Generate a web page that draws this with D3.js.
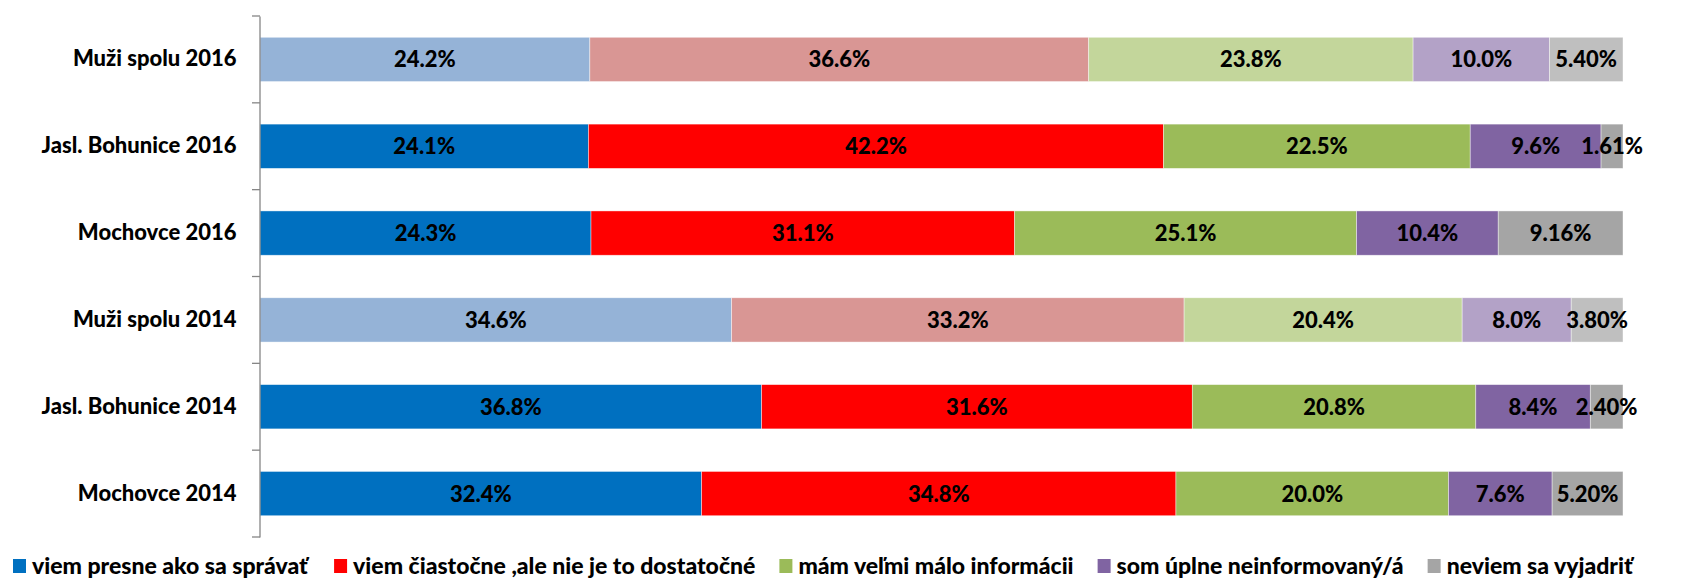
<!DOCTYPE html>
<html>
<head>
<meta charset="utf-8">
<script src="https://cdn.jsdelivr.net/npm/d3@7"></script>
<style>
  body { margin: 0; background: #fff; }
  svg text { font-family: Lato, "Open Sans", sans-serif; font-weight: 900; fill: #000; }
</style>
</head>
<body>
<div id="chart"></div>
<script>
// categories, top to bottom
var categories = [
  "Muži spolu 2016", "Jasl. Bohunice 2016", "Mochovce 2016",
  "Muži spolu 2014", "Jasl. Bohunice 2014", "Mochovce 2014"
];
// answer series (legend)
var seriesNames = [
  "viem presne ako sa správať",
  "viem čiastočne ,ale nie je to dostatočné",
  "mám veľmi málo informácii",
  "som úplne neinformovaný/á",
  "neviem sa vyjadriť"
];
// values per series, in category order (percent)
var presne     = [24.2, 24.1, 24.3, 34.6, 36.8, 32.4];
var ciastocne  = [36.6, 42.2, 31.1, 33.2, 31.6, 34.8];
var malo       = [23.8, 22.5, 25.1, 20.4, 20.8, 20.0];
var neinform   = [10.0, 9.6, 10.4, 8.0, 8.4, 7.6];
var nevyjadrit = [5.40, 1.61, 9.16, 3.80, 2.40, 5.20];
var labelDecimals = [1, 1, 1, 1, 2];

var seriesValues = [presne, ciastocne, malo, neinform, nevyjadrit];

// colours: full for the plants, pale for "Muži spolu"
var colors     = ["#0070C0", "#FF0000", "#9BBB59", "#8064A2", "#A5A5A5"];
var paleColors = ["#95B3D7", "#D99694", "#C3D69B", "#B3A2C7", "#BFBFBF"];

var width = 1681, height = 581;
var margin = { top: 16, right: 58, bottom: 44, left: 260 };

var svg = d3.select("#chart").append("svg")
  .attr("width", width)
  .attr("height", height);

// build table for d3.stack
var keys = seriesNames;
var table = categories.map(function (c, i) {
  var row = { cat: c };
  keys.forEach(function (k, j) { row[k] = seriesValues[j][i]; });
  return row;
});

var stacked = d3.stack().keys(keys).offset(d3.stackOffsetExpand)(table);

var x = d3.scaleLinear().domain([0, 1]).range([margin.left, width - margin.right]);
var y = d3.scaleBand().domain(categories)
  .range([margin.top, height - margin.bottom])
  .paddingInner(0.49).paddingOuter(0.245);

function isPale(cat) { return cat.indexOf("Muži") === 0; }

var layers = svg.append("g").selectAll("g")
  .data(stacked)
  .enter().append("g");

layers.selectAll("rect")
  .data(function (d) { return d.map(function (p) { return { p: p, s: d.index }; }); })
  .enter().append("rect")
  .attr("x", function (d) { return x(d.p[0]); })
  .attr("y", function (d) { return y(d.p.data.cat); })
  .attr("width", function (d) { return x(d.p[1]) - x(d.p[0]); })
  .attr("height", y.bandwidth())
  .attr("fill", function (d) { return isPale(d.p.data.cat) ? paleColors[d.s] : colors[d.s]; })
  .attr("stroke", "#ffffff")
  .attr("stroke-opacity", 0.6)
  .attr("stroke-width", 0.7);

// data labels
layers.selectAll("text")
  .data(function (d) { return d.map(function (p, i) { return { p: p, s: d.index, v: seriesValues[d.index][i] }; }); })
  .enter().append("text")
  .attr("x", function (d) { return (x(d.p[0]) + x(d.p[1])) / 2; })
  .attr("y", function (d) { return y(d.p.data.cat) + y.bandwidth() / 2; })
  .attr("dy", "0.36em")
  .attr("text-anchor", "middle")
  .style("font-size", "22px")
  .text(function (d) { return d.v.toFixed(labelDecimals[d.s]) + "%"; });

// y axis
var axis = svg.append("g")
  .attr("transform", "translate(" + (margin.left - 0.5) + ",0)")
  .call(d3.axisLeft(y).tickSize(0).tickPadding(23));
axis.select(".domain").attr("stroke", "#868686").attr("stroke-width", 1.3);
axis.selectAll("text").style("font-size", "22px");

// tick marks on band boundaries
var bounds = categories.map(function (c) { return y(c) - y.step() * y.paddingInner() / 2; });
bounds.push(height - margin.bottom);
svg.append("g").selectAll("line")
  .data(bounds)
  .enter().append("line")
  .attr("x1", margin.left - 8).attr("x2", margin.left)
  .attr("y1", function (d) { return d; }).attr("y2", function (d) { return d; })
  .attr("stroke", "#868686").attr("stroke-width", 1.3);

// legend
var legend = svg.append("g");
var items = legend.selectAll("g")
  .data(seriesNames)
  .enter().append("g");
items.append("rect")
  .attr("width", 13).attr("height", 14)
  .attr("y", -7)
  .attr("fill", function (d, i) { return colors[i]; });
items.append("text")
  .attr("x", 19)
  .attr("dy", "0.34em")
  .style("font-size", "23px")
  .text(function (d) { return d; });

var pos = 13, gap = 24;
items.each(function () {
  var w = this.getBBox().width;
  d3.select(this).attr("transform", "translate(" + pos + ",566)");
  pos += w + gap;
});
</script>
</body>
</html>
